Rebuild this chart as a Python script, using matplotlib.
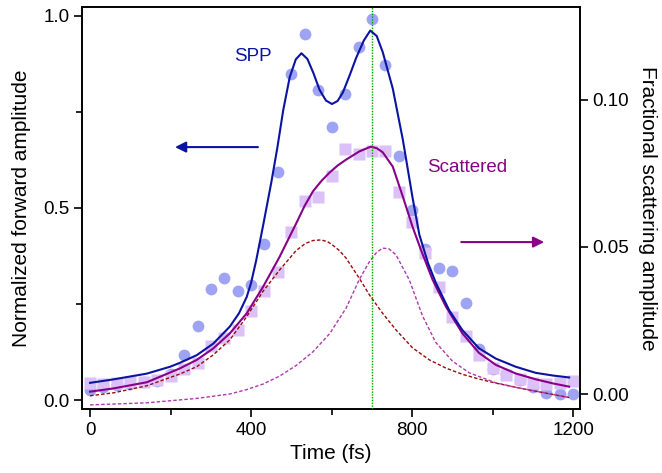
import numpy as np
import matplotlib
matplotlib.use("Agg")
import matplotlib.pyplot as plt

plt.rcParams['font.family'] = ['Liberation Sans', 'DejaVu Sans']

# measured data (37 points, 0..1200 fs)
times = [0, 33, 67, 100, 133, 167, 200, 233, 267, 300, 333, 367, 400, 433,
         467, 500, 533, 567, 600, 633, 667, 700, 733, 767, 800, 833, 867,
         900, 933, 967, 1000, 1033, 1067, 1100, 1133, 1167, 1200]
spp = [0.026, 0.035, 0.039, 0.043, 0.046, 0.050, 0.068, 0.117, 0.194, 0.290,
       0.317, 0.284, 0.300, 0.406, 0.594, 0.848, 0.952, 0.807, 0.710, 0.796,
       0.919, 0.991, 0.872, 0.635, 0.494, 0.393, 0.343, 0.336, 0.252, 0.134,
       0.082, 0.069, 0.052, 0.035, 0.019, 0.016, 0.016]
scattered = [0.0036, 0.0034, 0.0038, 0.0042, 0.0042, 0.0048, 0.0061, 0.0084,
             0.0107, 0.0163, 0.0192, 0.0218, 0.0283, 0.0350, 0.0414, 0.0550,
             0.0656, 0.0671, 0.0741, 0.0832, 0.0816, 0.0828, 0.0828, 0.0688,
             0.0586, 0.0478, 0.0365, 0.0263, 0.0197, 0.0133, 0.0087, 0.0065,
             0.0050, 0.0038, 0.0034, 0.0036, 0.0045]

# fitted curves
spp_fit_t = [0, 58, 141, 199, 223, 265, 306, 347, 370, 389, 400, 413, 430,
             450, 465, 480, 496, 511, 525, 540, 555, 570, 586, 601, 615, 628,
             645, 661, 680, 696, 712, 727, 752, 777, 801, 818, 840, 859, 892,
             925, 966, 1008, 1057, 1107, 1150, 1190]
spp_fit = [0.045, 0.054, 0.069, 0.087, 0.097, 0.117, 0.147, 0.191, 0.226,
           0.268, 0.305, 0.365, 0.455, 0.565, 0.655, 0.755, 0.840, 0.886,
           0.902, 0.887, 0.850, 0.807, 0.779, 0.770, 0.778, 0.800, 0.845,
           0.890, 0.935, 0.961, 0.947, 0.905, 0.810, 0.677, 0.527, 0.430,
           0.355, 0.305, 0.234, 0.182, 0.135, 0.108, 0.087, 0.071, 0.064,
           0.059]

sca_fit_t = [0, 58, 141, 223, 265, 306, 347, 389, 430, 471, 492, 512, 533,
             554, 575, 595, 615, 636, 669, 697, 712, 727, 752, 777, 801, 822,
             851, 884, 925, 966, 1008, 1057, 1107, 1150, 1190]
sca_fit = [0.0008, 0.0019, 0.0040, 0.0087, 0.0116, 0.0155, 0.0206, 0.0274,
           0.0365, 0.0467, 0.0525, 0.0580, 0.0640, 0.0690, 0.0725, 0.0753,
           0.0777, 0.0797, 0.0825, 0.0841, 0.0836, 0.0822, 0.0773, 0.0671,
           0.0569, 0.0490, 0.0388, 0.0297, 0.0206, 0.0140, 0.0099, 0.0070,
           0.0050, 0.0036, 0.0025]

comp1_t = [0, 58, 141, 223, 265, 306, 347, 389, 430, 471, 512, 535, 554, 574,
           590, 602, 620, 636, 669, 694, 727, 760, 801, 843, 884, 925, 966,
           1008, 1050, 1090, 1140, 1190]
comp1 = [-0.0006, 0.0004, 0.0028, 0.0068, 0.0093, 0.0133, 0.0184, 0.0263,
         0.0350, 0.0422, 0.0488, 0.0512, 0.0522, 0.0524, 0.0518, 0.0507,
         0.0487, 0.0462, 0.0393, 0.0337, 0.0274, 0.0218, 0.0157, 0.0116,
         0.0088, 0.0067, 0.0051, 0.0037, 0.0025, 0.0014, 0.0001, -0.0012]

comp2_t = [0, 141, 265, 347, 389, 430, 471, 512, 554, 595, 636, 669, 694,
           712, 727, 742, 760, 793, 826, 859, 900, 942, 1008, 1050, 1090,
           1140, 1190]
comp2 = [-0.0037, -0.0030, -0.0015, 0.0000, 0.0015, 0.0034, 0.0061, 0.0097,
         0.0144, 0.0205, 0.0292, 0.0390, 0.0450, 0.0482, 0.0496, 0.0494,
         0.0473, 0.0388, 0.0265, 0.0175, 0.0112, 0.0072, 0.0038, 0.0025,
         0.0014, 0.0001, -0.0012]

t_mark = 700

fig = plt.figure(figsize=(6.62, 4.73), dpi=100)
ax = fig.add_axes([0.1239, 0.1353, 0.7522, 0.8505])
ax2 = ax.twinx()

ax.set_xlim(-20, 1217)
ax.set_ylim(-0.023, 1.023)
ax2.set_ylim(-0.0051, 0.1317)

# everything goes on ax2 so layering is one stack; left-axis series use ax's transform
left = ax.transData
ax2.plot(times, spp, 'o', ms=8.5, color='#9ea4f3', mec='none', zorder=1,
         transform=left)
ax2.plot(times, scattered, 's', ms=8.5, color='#dcc1f8', mec='none', zorder=1)

ax2.plot(comp1_t, comp1, color='#9a0a0a', lw=1.0, ls=(0, (2.5, 1.5)), zorder=3)
ax2.plot(comp2_t, comp2, color='#b038b0', lw=1.0, ls=(0, (2.5, 1.5)), zorder=3)
ax2.plot(sca_fit_t, sca_fit, color='#880088', lw=1.5, zorder=4)
ax2.axvline(t_mark, color='#00a000', lw=1.0, ls=(0, (1, 1)), zorder=5)
ax2.plot(spp_fit_t, spp_fit, color='#0a14a0', lw=1.5, zorder=6, transform=left)

ax2.set_ylim(-0.0051, 0.1317)

ax.set_xticks([0, 400, 800, 1200])
ax.set_xticks([200, 600, 1000], minor=True)
ax.set_yticks([0.0, 0.5, 1.0])
ax.set_yticks([0.25, 0.75], minor=True)
ax.set_yticklabels(['0.0', '0.5', '1.0'])
ax2.set_yticks([0.0, 0.05, 0.10])
ax2.set_yticklabels(['0.00', '0.05', '0.10'])

for a in (ax, ax2):
    a.tick_params(which='major', direction='out', length=6, width=1.2,
                  labelsize=13.5, pad=3)
    a.tick_params(which='minor', direction='out', length=4, width=1.2)
    for s in a.spines.values():
        s.set_linewidth(1.2)

ax.set_xlabel('Time (fs)', fontsize=15, labelpad=4)
ax.set_ylabel('Normalized forward amplitude', fontsize=15, labelpad=9)
ax2.set_ylabel('Fractional scattering amplitude', fontsize=15, rotation=270,
               labelpad=20)

ax2.text(404, 0.893, 'SPP', color='#0a14a0', fontsize=13.5,
         ha='center', va='center', transform=left)
ax2.text(937, 0.606, 'Scattered', color='#880088', fontsize=13.5,
         ha='center', va='center', transform=left)
ax2.annotate('', xy=(211, 0.658), xytext=(417, 0.658), xycoords=left,
             textcoords=left,
             arrowprops=dict(arrowstyle='-|>', color='#0a14a0', lw=1.5,
                             mutation_scale=16, shrinkA=0, shrinkB=0))
ax2.annotate('', xy=(1128, 0.411), xytext=(922, 0.411), xycoords=left,
             textcoords=left,
             arrowprops=dict(arrowstyle='-|>', color='#880088', lw=1.5,
                             mutation_scale=16, shrinkA=0, shrinkB=0))

fig.savefig('out.png', dpi=100)
